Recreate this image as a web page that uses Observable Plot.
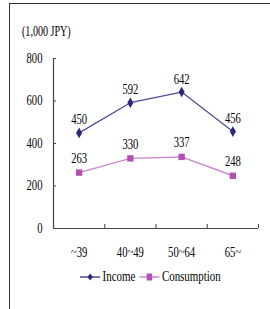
<!DOCTYPE html>
<html><head><meta charset="utf-8">
<script src="https://cdn.jsdelivr.net/npm/d3@7"></script>
<script src="https://cdn.jsdelivr.net/npm/@observablehq/plot@0.6"></script>
<style>
body{margin:0;background:#fff;width:270px;height:309px;overflow:hidden;position:relative;font-family:"Liberation Serif","Times New Roman",serif;}
#frame{position:absolute;left:9px;top:3px;width:261px;height:306px;border-left:1.5px solid #333;border-top:1.5px solid #333;box-sizing:border-box;}
#chart{position:absolute;left:0;top:0;}
#ylab{position:absolute;left:22px;top:24px;font-size:14px;color:#000;transform:scaleX(0.72);transform-origin:left center;white-space:nowrap;}
#legend{position:absolute;left:80px;top:269px;font-size:14px;color:#000;display:flex;align-items:center;gap:3px;transform:scaleX(0.78);transform-origin:left center;white-space:nowrap;}
#legend svg{display:block}
</style></head>
<body>
<div id="frame"></div>
<div id="chart"></div>
<div id="ylab">(1,000 JPY)</div>
<div id="legend"></div>
<script>
const categories = ["~39", "40~49", "50~64", "65~"];
const income = [450, 592, 642, 456];
const consumption = [263, 330, 337, 248];
const yTicks = [0, 200, 400, 600, 800];
const seriesNames = ["Income", "Consumption"];
const lineColors = ["#4b4b98", "#cc88cc"];
const markColors = ["#2a2a78", "#b050b0"];

const rows = [];
categories.forEach((c, i) => {
  rows.push({cat: c, pos: i + 0.5, value: income[i], series: "Income"});
  rows.push({cat: c, pos: i + 0.5, value: consumption[i], series: "Consumption"});
});
const inc = rows.filter(d => d.series === "Income");
const con = rows.filter(d => d.series === "Consumption");
const bounds = d3.range(categories.length + 1);
const centers = categories.map((c, i) => i + 0.5);

const font = "Liberation Serif, Times New Roman, serif";
const chart = Plot.plot({
  width: 270, height: 268,
  marginLeft: 53, marginRight: 12, marginTop: 58, marginBottom: 40,
  style: {fontFamily: font, fontSize: "14px", color: "#000", background: "transparent"},
  x: {domain: [0, categories.length], axis: null},
  y: {domain: [0, 800], axis: null},
  marks: [
    Plot.axisY(yTicks, {tickSize: -3, tickPadding: 14, label: null, stroke: "#444", fontSize: 14}),
    Plot.axisX(bounds, {tickSize: -4, tickFormat: () => "", label: null, stroke: "#444"}),
    Plot.axisX(centers, {tickSize: 0, tickPadding: 19, tickFormat: (d) => categories[Math.floor(d)], label: null, fontSize: 14}),
    Plot.ruleX([0], {stroke: "#444", strokeWidth: 1.2}),
    Plot.ruleY([0], {stroke: "#444", strokeWidth: 1.2}),
    Plot.line(inc, {x: "pos", y: "value", stroke: lineColors[0], strokeWidth: 1.2}),
    Plot.line(con, {x: "pos", y: "value", stroke: lineColors[1], strokeWidth: 1.5}),
    Plot.dot(inc, {x: "pos", y: "value", symbol: "diamond", r: 3.2, fill: markColors[0], stroke: "none"}),
    Plot.dot(con, {x: "pos", y: "value", symbol: "square", r: 3.6, fill: markColors[1], stroke: "none"}),
    Plot.text(inc, {x: "pos", y: "value", text: d => String(d.value), dy: -13, fontSize: 14, fill: "#000"}),
    Plot.text(con, {x: "pos", y: "value", text: d => String(d.value), dy: -14, fontSize: 14, fill: "#000"})
  ]
});
document.getElementById("chart").append(chart);

// condense the serif text horizontally (reference uses a narrow Times rendering)
chart.querySelectorAll("text").forEach(t => {
  const tr = t.getAttribute("transform");
  if (tr && /translate/.test(tr) && !t.hasAttribute("x")) {
    t.setAttribute("transform", tr + " scale(0.76,1)");
  } else {
    const x = +(t.getAttribute("x") || 0), y = +(t.getAttribute("y") || 0);
    t.removeAttribute("x"); t.removeAttribute("y");
    t.setAttribute("transform", (tr ? tr + " " : "") + `translate(${x},${y}) scale(0.76,1)`);
  }
});

const leg = d3.select("#legend");
seriesNames.forEach((name, i) => {
  const s = leg.append("svg").attr("width", 26).attr("height", 10);
  s.append("line").attr("x1", 0).attr("x2", 26).attr("y1", 5).attr("y2", 5).attr("stroke", lineColors[i]).attr("stroke-width", 1.3);
  if (i === 0) s.append("path").attr("d", "M13,1.5L16.5,5L13,8.5L9.5,5Z").attr("fill", markColors[i]);
  else s.append("rect").attr("x", 9.5).attr("y", 1.5).attr("width", 7).attr("height", 7).attr("fill", markColors[i]);
  leg.append("span").text(name).style("margin-right", "2px");
});
</script>
</body></html>
